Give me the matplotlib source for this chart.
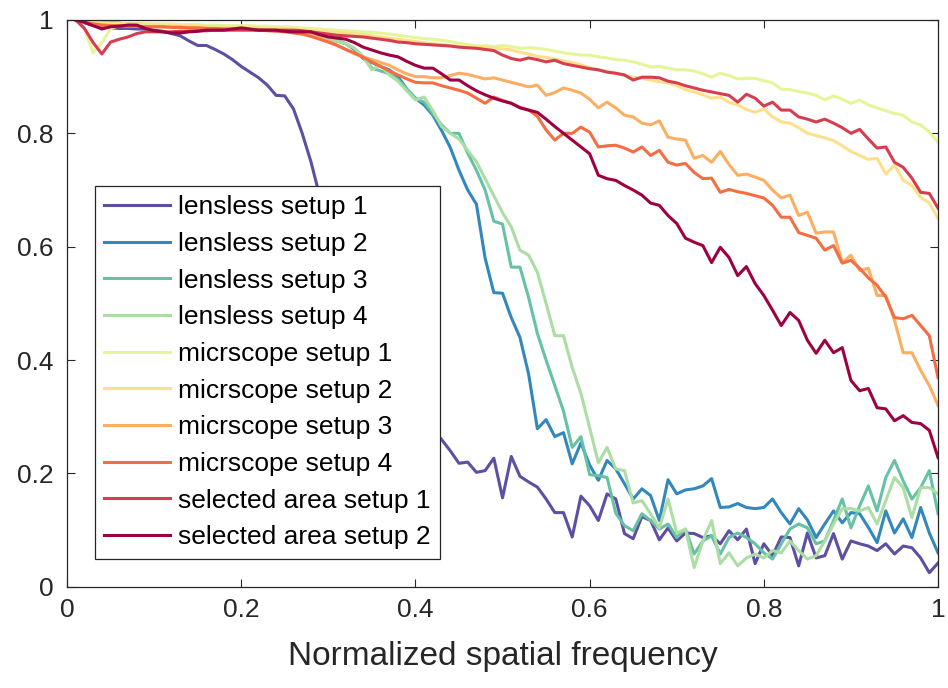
import numpy as np
import matplotlib
matplotlib.use("Agg")
import matplotlib.pyplot as plt

plt.rcParams['font.family'] = ['Liberation Sans', 'DejaVu Sans']

# normalized spatial frequency, 0.01 .. 1.00
freq = np.arange(1, 101) / 100.0

labels = ["lensless setup 1", "lensless setup 2", "lensless setup 3", "lensless setup 4",
          "micrscope setup 1", "micrscope setup 2", "micrscope setup 3", "micrscope setup 4",
          "selected area setup 1", "selected area setup 2"]

# Spectral palette (reversed), one colour per curve
colors = ["#5e4fa2", "#3288bd", "#66c2a5", "#abdda4", "#e6f598",
          "#fee08b", "#fdae61", "#f46d43", "#d53e4f", "#9e0142"]

lensless1 = [1.00, 0.995, 0.99, 0.988, 0.986, 0.985, 0.985, 0.984, 0.984, 0.982,
             0.98, 0.976, 0.972, 0.963, 0.955, 0.955, 0.948, 0.94, 0.93, 0.918,
             0.908, 0.898, 0.885, 0.867, 0.866, 0.843, 0.80, 0.75, 0.69, 0.63,
             0.57, 0.52, 0.47, 0.43, 0.40, 0.37, 0.35, 0.33, 0.31, 0.295,
             0.285, 0.275, 0.26, 0.24, 0.218, 0.22, 0.202, 0.205, 0.227, 0.157,
             0.23, 0.195, 0.185, 0.176, 0.155, 0.131, 0.131, 0.088, 0.16, 0.143,
             0.117, 0.164, 0.155, 0.094, 0.085, 0.124, 0.117, 0.083, 0.104, 0.081,
             0.095, 0.094, 0.087, 0.09, 0.076, 0.099, 0.083, 0.102, 0.041, 0.076,
             0.055, 0.088, 0.087, 0.037, 0.095, 0.051, 0.055, 0.094, 0.049, 0.081,
             0.076, 0.072, 0.064, 0.076, 0.058, 0.072, 0.069, 0.051, 0.025, 0.042]

lensless2 = [1.00, 0.998, 0.996, 0.995, 0.995, 0.994, 0.993, 0.993, 0.992, 0.992,
             0.99, 0.99, 0.99, 0.99, 0.989, 0.988, 0.988, 0.987, 0.987, 0.986,
             0.986, 0.985, 0.985, 0.984, 0.983, 0.982, 0.978, 0.975, 0.972, 0.968,
             0.963, 0.958, 0.948, 0.932, 0.925, 0.918, 0.912, 0.90, 0.878, 0.862,
             0.85, 0.832, 0.805, 0.775, 0.735, 0.70, 0.675, 0.58, 0.519, 0.518,
             0.475, 0.44, 0.375, 0.279, 0.295, 0.265, 0.272, 0.217, 0.254, 0.215,
             0.188, 0.223, 0.208, 0.182, 0.155, 0.173, 0.161, 0.117, 0.189, 0.164,
             0.171, 0.173, 0.178, 0.191, 0.14, 0.141, 0.147, 0.14, 0.138, 0.14,
             0.155, 0.131, 0.111, 0.138, 0.118, 0.087, 0.111, 0.134, 0.113, 0.131,
             0.129, 0.105, 0.078, 0.134, 0.095, 0.12, 0.087, 0.14, 0.095, 0.06]

lensless3 = [1.00, 0.998, 0.996, 0.995, 0.995, 0.994, 0.993, 0.993, 0.992, 0.992,
             0.99, 0.99, 0.99, 0.99, 0.989, 0.988, 0.988, 0.987, 0.987, 0.986,
             0.986, 0.985, 0.985, 0.984, 0.983, 0.982, 0.978, 0.975, 0.972, 0.968,
             0.963, 0.958, 0.95, 0.935, 0.915, 0.91, 0.905, 0.895, 0.878, 0.862,
             0.855, 0.835, 0.815, 0.80, 0.80, 0.765, 0.735, 0.70, 0.645, 0.64,
             0.564, 0.564, 0.51, 0.447, 0.40, 0.355, 0.31, 0.246, 0.265, 0.198,
             0.196, 0.193, 0.13, 0.108, 0.099, 0.129, 0.117, 0.102, 0.111, 0.087,
             0.102, 0.058, 0.081, 0.09, 0.058, 0.087, 0.095, 0.087, 0.076, 0.06,
             0.049, 0.076, 0.102, 0.111, 0.104, 0.076, 0.081, 0.117, 0.155, 0.104,
             0.143, 0.178, 0.134, 0.193, 0.223, 0.187, 0.155, 0.175, 0.205, 0.129]

lensless4 = [1.00, 0.998, 0.996, 0.995, 0.995, 0.994, 0.993, 0.993, 0.992, 0.992,
             0.99, 0.99, 0.99, 0.99, 0.989, 0.988, 0.988, 0.987, 0.987, 0.986,
             0.986, 0.985, 0.985, 0.984, 0.983, 0.982, 0.978, 0.975, 0.972, 0.968,
             0.963, 0.958, 0.95, 0.935, 0.912, 0.92, 0.903, 0.892, 0.875, 0.859,
             0.864, 0.84, 0.812, 0.80, 0.79, 0.77, 0.75, 0.72, 0.69, 0.66,
             0.635, 0.594, 0.585, 0.555, 0.50, 0.443, 0.443, 0.387, 0.341, 0.281,
             0.219, 0.246, 0.208, 0.205, 0.148, 0.152, 0.129, 0.104, 0.155, 0.095,
             0.102, 0.034, 0.081, 0.117, 0.041, 0.06, 0.037, 0.051, 0.058, 0.051,
             0.064, 0.06, 0.081, 0.064, 0.049, 0.055, 0.081, 0.111, 0.138, 0.138,
             0.134, 0.14, 0.111, 0.152, 0.193, 0.175, 0.122, 0.175, 0.175, 0.164]

micro1 = [1.00, 0.985, 0.942, 0.96, 0.985, 0.99, 0.992, 0.993, 0.993, 0.993,
          0.993, 0.993, 0.992, 0.992, 0.992, 0.991, 0.991, 0.99, 0.99, 0.99,
          0.99, 0.989, 0.989, 0.988, 0.988, 0.987, 0.986, 0.985, 0.984, 0.983,
          0.982, 0.981, 0.98, 0.979, 0.978, 0.977, 0.975, 0.973, 0.971, 0.969,
          0.967, 0.966, 0.964, 0.962, 0.959, 0.957, 0.954, 0.955, 0.953, 0.955,
          0.953, 0.95, 0.951, 0.95, 0.948, 0.945, 0.942, 0.94, 0.938, 0.938,
          0.935, 0.933, 0.93, 0.929, 0.926, 0.922, 0.917, 0.918, 0.915, 0.912,
          0.912, 0.91, 0.905, 0.899, 0.906, 0.902, 0.896, 0.897, 0.897, 0.893,
          0.889, 0.878, 0.877, 0.874, 0.871, 0.867, 0.859, 0.866, 0.86, 0.853,
          0.859, 0.85, 0.845, 0.84, 0.835, 0.832, 0.82, 0.815, 0.802, 0.784]

micro2 = [1.00, 0.998, 0.996, 0.995, 0.994, 0.994, 0.993, 0.993, 0.992, 0.992,
          0.991, 0.991, 0.99, 0.99, 0.989, 0.989, 0.988, 0.988, 0.987, 0.987,
          0.986, 0.986, 0.985, 0.985, 0.984, 0.983, 0.982, 0.981, 0.98, 0.979,
          0.978, 0.977, 0.976, 0.974, 0.972, 0.97, 0.968, 0.966, 0.964, 0.962,
          0.96, 0.958, 0.957, 0.955, 0.953, 0.952, 0.952, 0.951, 0.95, 0.949,
          0.947, 0.943, 0.94, 0.936, 0.934, 0.931, 0.928, 0.925, 0.921, 0.916,
          0.912, 0.909, 0.906, 0.902, 0.899, 0.897, 0.894, 0.891, 0.889, 0.884,
          0.877, 0.873, 0.868, 0.862, 0.864, 0.855, 0.85, 0.842, 0.837, 0.843,
          0.829, 0.82, 0.818, 0.81, 0.80, 0.796, 0.792, 0.787, 0.778, 0.768,
          0.761, 0.754, 0.756, 0.728, 0.744, 0.717, 0.708, 0.687, 0.677, 0.65]

micro3 = [1.00, 0.996, 0.993, 0.991, 0.99, 0.99, 0.989, 0.989, 0.988, 0.988,
          0.988, 0.987, 0.987, 0.986, 0.986, 0.985, 0.985, 0.984, 0.984, 0.984,
          0.983, 0.983, 0.982, 0.981, 0.98, 0.979, 0.977, 0.973, 0.968, 0.963,
          0.956, 0.948, 0.94, 0.935, 0.93, 0.925, 0.92, 0.912, 0.905, 0.90,
          0.90, 0.898, 0.898, 0.902, 0.906, 0.904, 0.90, 0.896, 0.898, 0.894,
          0.89, 0.886, 0.882, 0.885, 0.867, 0.872, 0.88, 0.876, 0.871, 0.86,
          0.845, 0.855, 0.845, 0.832, 0.829, 0.818, 0.815, 0.822, 0.793, 0.79,
          0.788, 0.756, 0.761, 0.749, 0.768, 0.745, 0.726, 0.728, 0.723, 0.717,
          0.70, 0.686, 0.691, 0.655, 0.661, 0.624, 0.626, 0.626, 0.572, 0.585,
          0.558, 0.562, 0.514, 0.514, 0.47, 0.413, 0.413, 0.382, 0.355, 0.32]

micro4 = [1.00, 0.996, 0.993, 0.991, 0.99, 0.99, 0.989, 0.989, 0.988, 0.988,
          0.988, 0.987, 0.987, 0.986, 0.986, 0.985, 0.985, 0.984, 0.984, 0.983,
          0.983, 0.982, 0.981, 0.98, 0.979, 0.977, 0.975, 0.971, 0.966, 0.961,
          0.955, 0.948, 0.942, 0.934, 0.926, 0.918, 0.91, 0.903, 0.896, 0.89,
          0.889, 0.889, 0.884, 0.88, 0.876, 0.871, 0.862, 0.853, 0.864, 0.858,
          0.853, 0.846, 0.841, 0.83, 0.806, 0.788, 0.80, 0.80, 0.811, 0.802,
          0.776, 0.778, 0.779, 0.774, 0.767, 0.776, 0.761, 0.77, 0.749, 0.744,
          0.747, 0.731, 0.72, 0.721, 0.696, 0.701, 0.697, 0.694, 0.69, 0.686,
          0.673, 0.652, 0.652, 0.625, 0.62, 0.615, 0.594, 0.602, 0.571, 0.576,
          0.562, 0.545, 0.532, 0.511, 0.475, 0.473, 0.479, 0.461, 0.443, 0.369]

selected1 = [1.00, 0.985, 0.96, 0.94, 0.961, 0.966, 0.97, 0.976, 0.979, 0.979,
             0.979, 0.979, 0.98, 0.98, 0.981, 0.981, 0.982, 0.982, 0.982, 0.982,
             0.982, 0.982, 0.982, 0.982, 0.982, 0.982, 0.981, 0.979, 0.977, 0.975,
             0.973, 0.972, 0.971, 0.97, 0.968, 0.966, 0.964, 0.961, 0.96, 0.958,
             0.957, 0.956, 0.955, 0.954, 0.952, 0.951, 0.95, 0.948, 0.946, 0.938,
             0.932, 0.929, 0.933, 0.93, 0.926, 0.929, 0.923, 0.92, 0.917, 0.914,
             0.912, 0.908, 0.906, 0.903, 0.894, 0.899, 0.899, 0.898, 0.892, 0.889,
             0.884, 0.88, 0.876, 0.873, 0.87, 0.867, 0.855, 0.869, 0.862, 0.848,
             0.855, 0.841, 0.841, 0.829, 0.825, 0.82, 0.825, 0.818, 0.81, 0.80,
             0.807, 0.79, 0.774, 0.776, 0.749, 0.74, 0.721, 0.696, 0.694, 0.668]

selected2 = [1.00, 0.996, 0.99, 0.984, 0.988, 0.989, 0.991, 0.991, 0.985, 0.981,
             0.979, 0.977, 0.977, 0.979, 0.98, 0.982, 0.982, 0.982, 0.984, 0.986,
             0.984, 0.982, 0.982, 0.982, 0.98, 0.979, 0.979, 0.979, 0.974, 0.97,
             0.968, 0.966, 0.96, 0.952, 0.947, 0.942, 0.938, 0.935, 0.927, 0.92,
             0.915, 0.915, 0.905, 0.894, 0.894, 0.884, 0.875, 0.868, 0.862, 0.857,
             0.853, 0.845, 0.841, 0.837, 0.825, 0.812, 0.80, 0.788, 0.776, 0.764,
             0.726, 0.72, 0.717, 0.708, 0.70, 0.691, 0.677, 0.673, 0.655, 0.641,
             0.615, 0.608, 0.602, 0.572, 0.599, 0.581, 0.549, 0.565, 0.535, 0.514,
             0.488, 0.461, 0.484, 0.47, 0.435, 0.412, 0.435, 0.413, 0.422, 0.364,
             0.346, 0.35, 0.316, 0.314, 0.293, 0.302, 0.29, 0.288, 0.276, 0.228]

curves = [lensless1, lensless2, lensless3, lensless4, micro1,
          micro2, micro3, micro4, selected1, selected2]

fig = plt.figure(figsize=(9.48, 6.88), dpi=100)
ax = fig.add_axes([0.0707, 0.147, 0.9188, 0.824])

for y, lab, col in zip(curves, labels, colors):
    ax.plot(freq, y, color=col, lw=2.2, label=lab)

ax.set_xlim(0, 1)
ax.set_ylim(0, 1)
ticks = [0, 0.2, 0.4, 0.6, 0.8, 1]
ticklabels = ["0", "0.2", "0.4", "0.6", "0.8", "1"]
ax.set_xticks(ticks)
ax.set_xticklabels(ticklabels)
ax.set_yticks(ticks)
ax.set_yticklabels(ticklabels)
ax.tick_params(direction="in", length=6, width=0.8, top=True, right=True,
               labelsize=19, colors="#262626")
ax.tick_params(axis="x", pad=8)
ax.tick_params(axis="y", pad=10)
for s in ax.spines.values():
    s.set_color("#262626")
    s.set_linewidth(0.9)

ax.set_xlabel("Normalized spatial frequency", fontsize=24, color="#262626", labelpad=14)

leg = ax.legend(loc="upper left", bbox_to_anchor=(0.032, 0.707), borderaxespad=0,
                fontsize=19, handlelength=2.5, handletextpad=0.3,
                labelspacing=0.48, borderpad=0.35, fancybox=False, framealpha=1)
leg.get_frame().set_edgecolor("#262626")
leg.get_frame().set_linewidth(0.9)

fig.savefig("out.png", dpi=100)
